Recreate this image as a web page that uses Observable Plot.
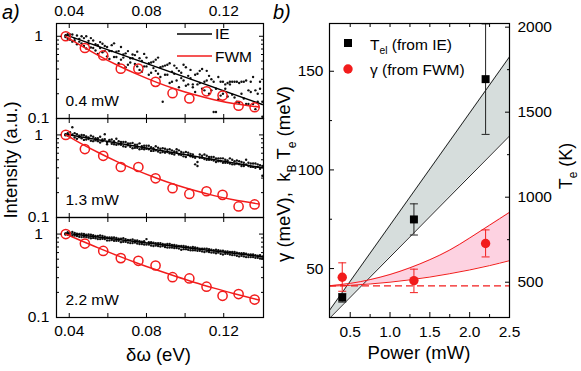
<!DOCTYPE html>
<html><head><meta charset="utf-8">
<script src="https://cdn.jsdelivr.net/npm/d3@7"></script>
<script src="https://cdn.jsdelivr.net/npm/@observablehq/plot@0.6"></script>
<style>
body{margin:0;background:#fff;}
#fig{position:relative;width:581px;height:371px;overflow:hidden;background:#fff;font-family:"Liberation Sans",Arial,Helvetica,sans-serif;color:#000;}
#fig svg{overflow:visible;}
</style></head>
<body><div id="fig"></div>
<script>
// ---------- DATA: panel a (normalized intensity vs delta-omega, eV) ----------
const ieStartEv = 0.038, ieStepEv = 0.0012;   // spectral sampling of the IE dots
const ie04A = [1.02,1.06,0.91,1.05,0.88,1.02,0.86,1.0,0.76,1.0, 0.88,0.73,0.89,0.67,0.78,0.85,0.64,0.76,0.57,0.66, 0.78,0.56,0.65,0.47,0.74,0.55,0.62,0.45,0.54,0.60, 0.46,0.65,0.39,0.50,0.43,0.55,0.34,0.48,0.41,0.52, 0.35,0.42,0.16,0.44,0.34,0.47,0.28,0.35,0.41,0.24, 0.36,0.29,0.42,0.26,0.31,0.24,0.34,0.26,0.38,0.23, 0.28,0.38,0.20,0.30,0.12,0.12,0.17,0.28,0.20,0.26, 0.27,0.28,0.195,0.28,0.16,0.27,0.20,0.28,0.15,0.22, 0.28,0.15,0.22,0.16,0.28,0.105];
const ie04B = [0.98,0.93,1.05,0.86,0.93,0.80,0.93,0.82,0.95,0.71, 0.81,0.95,0.72,0.80,0.61,0.72,0.81,0.66,0.74,0.53, 0.66,0.82,0.56,0.66,0.52,0.60,0.42,0.66,0.48,0.54, 0.59,0.43,0.54,0.37,0.61,0.43,0.47,0.36,0.49,0.38, 0.55,0.32,0.43,0.34,0.45,0.27,0.37,0.44,0.29,0.38, 0.31,0.45,0.25,0.33,0.39,0.26,0.21,0.35,0.27,0.40, 0.22,0.29,0.33,0.22,0.28,0.23,0.32,0.19,0.28,0.23, 0.185,0.26,0.28,0.18,0.28,0.155,0.28,0.175,0.29,0.15, 0.21,0.32,0.13,0.20,0.23,0.16];
const ie13A = [1.02,0.98,1.08,1.24,0.93,1.02,0.94,1.0,0.87,0.96, 0.89,0.98,0.84,0.91,0.84,0.95,0.84,0.89,0.77,0.85, 0.88,0.77,0.90,0.77,0.82,0.73,0.82,0.75,0.79,0.69, 0.76,0.70,0.79,0.68,0.74,0.68,0.74,0.64,0.69,0.73, 0.63,0.68,0.62,0.68,0.62,0.67,0.59,0.63,0.67,0.58, 0.62,0.55,0.62,0.57,0.59,0.54,0.44,0.42,0.58,0.53, 0.58,0.50,0.54,0.50,0.54,0.47,0.52,0.48,0.52,0.46, 0.49,0.52,0.44,0.48,0.45,0.48,0.42,0.46,0.50,0.42, 0.45,0.41,0.45,0.41,0.43,0.32];
const ie13B = [0.99,1.05,0.94,1.01,1.05,0.90,0.98,0.91,0.99,0.88, 0.93,0.85,0.95,0.86,0.91,0.81,0.88,1.02,0.81,0.87, 0.78,0.84,0.76,0.84,0.76,0.82,0.72,0.79,0.72,0.80, 0.70,0.76,0.67,0.73,0.67,0.74,0.67,0.71,0.64,0.65, 0.70,0.61,0.69,0.61,0.66,0.60,0.65,0.58,0.62,0.65, 0.57,0.61,0.54,0.61,0.55,0.58,0.53,0.47,0.53,0.56, 0.51,0.56,0.50,0.54,0.49,0.52,0.48,0.52,0.46,0.50, 0.46,0.45,0.50,0.44,0.49,0.44,0.47,0.42,0.44,0.46, 0.41,0.45,0.40,0.44,0.39,0.42];
const ie22A = [1.02,1.05,0.96,1.06,0.96,1.01,0.93,1.01,0.93,0.98, 0.91,0.98,0.90,0.95,0.87,0.96,0.88,0.93,0.84,0.91, 0.85,0.91,0.83,0.88,0.80,0.89,0.81,0.85,0.78,0.86, 0.79,0.84,0.76,0.81,0.75,0.87,0.75,0.80,0.72,0.78, 0.72,0.78,0.72,0.75,0.69,0.76,0.69,0.74,0.68,0.72, 0.65,0.72,0.66,0.70,0.64,0.70,0.64,0.68,0.63,0.67, 0.61,0.67,0.61,0.65,0.60,0.65,0.60,0.63,0.57,0.62, 0.58,0.61,0.56,0.61,0.55,0.59,0.55,0.59,0.53,0.57, 0.53,0.57,0.52,0.55,0.51,0.54];
const ie22B = [0.99,0.98,1.03,0.95,1.03,0.95,1.0,0.92,1.0,0.92, 0.99,0.89,0.97,0.89,0.95,0.87,0.95,0.87,0.91,0.84, 0.91,0.83,0.90,0.83,0.88,0.81,0.87,0.79,0.85,0.78, 0.84,0.77,0.82,0.76,0.82,0.75,0.80,0.73,0.79,0.73, 0.78,0.71,0.76,0.70,0.76,0.69,0.74,0.68,0.73,0.67, 0.72,0.66,0.71,0.65,0.69,0.64,0.69,0.63,0.67,0.62, 0.67,0.62,0.66,0.60,0.64,0.59,0.64,0.58,0.63,0.58, 0.62,0.57,0.61,0.56,0.60,0.54,0.59,0.54,0.58,0.53, 0.57,0.53,0.56,0.52,0.56,0.51];

const ieFitX = [0.0382, 0.1400];
const ieFit04 = [1.04, 0.148];
const ieFit13 = [1.02, 0.40];
const ieFit22 = [1.02, 0.535];

const fwmX = [0.0382,0.0481,0.0576,0.0667,0.0758,0.0847,0.0935,0.1022,0.1111,0.1194,0.1277,0.1360];
const fwm04 = [1.0,0.72,0.585,0.404,0.404,0.279,0.203,0.175,0.214,0.19,0.143,0.137];
const fwm13 = [1.0,0.674,0.558,0.409,0.409,0.298,0.226,0.193,0.208,0.188,0.136,0.144];
const fwm22 = [1.0,0.77,0.628,0.515,0.478,0.42,0.304,0.294,0.234,0.182,0.191,0.164];

const fitX = [0.0382,0.045,0.055,0.065,0.075,0.085,0.095,0.105,0.115,0.125,0.1382];
const fit04 = [1.0,0.798,0.587,0.444,0.346,0.277,0.228,0.194,0.169,0.152,0.138];
const fit13 = [1.0,0.813,0.612,0.472,0.372,0.301,0.249,0.212,0.184,0.164,0.146];
const fit22 = [1.0,0.854,0.683,0.552,0.451,0.373,0.312,0.263,0.225,0.194,0.162];

const powerLabelsA = ["0.4 mW", "1.3 mW", "2.2 mW"];
const xTicksA = [0.04,0.06,0.08,0.10,0.12];
const xLabelsA = [0.04,0.08,0.12];
const yMinorA = [0.2,0.3,0.4,0.5,0.6,0.7,0.8,0.9];
const yLabelsA = [0.1, 1];

// ---------- DATA: panel b (vs power, mW) ----------
const powerTel = [0.4, 1.3, 2.2];
const telMeV = [35.3, 74.9, 146.0];
const telLoMeV = [33.0, 67.0, 118.0];
const telHiMeV = [37.3, 82.8, 174.0];
const powerGamma = [0.4, 1.3, 2.2];
const gammaMeV = [45.6, 43.9, 62.7];
const gammaLoMeV = [38.5, 37.8, 55.9];
const gammaHiMeV = [52.9, 49.7, 69.6];
const gamma0MeV = 41.2;
const telBandP = [0.24, 2.5];
const telBandLo = [24.8, 117.2];
const telBandHi = [28.8, 157.3];
const gBandP = [0.24,0.5,0.75,1.0,1.25,1.5,1.75,2.0,2.25,2.5];
const gBandLo = [41.1,41.5,42.2,43.1,44.3,45.7,47.4,49.3,51.5,54.0];
const gBandHi = [41.3,42.5,44.4,47.0,50.4,54.5,59.4,65.5,72.0,78.5];
const powerTicksMajor = [0.5,1.0,1.5,2.0,2.5];
const powerTicksMinor = [0.75,1.25,1.75,2.25];
const powerTicksTop = [0.5,0.75,1.0,1.25,1.5,1.75,2.0,2.25];
const meVTicksMajor = [50,100,150];
const meVTicksMinor = [75,125];
const teTicksK = [500,1000,1500,2000];
const teMinorK = [750,1250,1750];
const KB = 0.08617333; // meV per K

// ---------- rendering ----------
const FONT = '"Liberation Sans", Arial, Helvetica, sans-serif';
const RED = "#f21c1c";
const fig = document.getElementById("fig");
function place(node, left, top) {
  node.style.position = "absolute"; node.style.left = left + "px"; node.style.top = top + "px";
  fig.appendChild(node);
}
const baseStyle = {fontFamily: FONT, fontSize: "15.5px", background: "transparent", overflow: "visible", color: "black"};
const tickAx = (fn, anchor, ticks, size) => fn({anchor, ticks, tickSize: -size, fill: "none", label: null, strokeWidth: 1});

function ieRowsOf(a, b) {
  const rows = [];
  [a, b].forEach(arr => arr.forEach((v, i) => rows.push({x: ieStartEv + i * ieStepEv, y: v})));
  return rows;
}
const zip = (xs, ys) => xs.map((x, i) => ({x, y: ys[i]}));

const subs = [
  {ieA: ie04A, ieB: ie04B, ieFit: ieFit04, fwm: fwm04, fit: fit04, label: powerLabelsA[0], top: 0, mTop: 23, frameH: 95, mBottom: 0, yMax: 1.43, topLabels: true},
  {ieA: ie13A, ieB: ie13B, ieFit: ieFit13, fwm: fwm13, fit: fit13, label: powerLabelsA[1], top: 118, mTop: 0, frameH: 99, mBottom: 0, yMax: 1.58},
  {ieA: ie22A, ieB: ie22B, ieFit: ieFit22, fwm: fwm22, fit: fit22, label: powerLabelsA[2], top: 217, mTop: 0, frameH: 100, mBottom: 54, yMax: 1.58, bottomLabels: true}
];

for (const s of subs) {
  const marks = [
    Plot.dot(ieRowsOf(s.ieA, s.ieB), {x: "x", y: "y", r: 1.2, fill: "#111", stroke: "none"}),
    Plot.line(zip(ieFitX, s.ieFit), {x: "x", y: "y", stroke: "black", strokeWidth: 1.5}),
    Plot.line(zip(fitX, s.fit), {x: "x", y: "y", stroke: RED, strokeWidth: 1.5, curve: "natural"}),
    Plot.dot(zip(fwmX, s.fwm), {x: "x", y: "y", r: 4.6, stroke: RED, strokeWidth: 1.5, fill: "none"}),
    Plot.text([s.label], {text: d => d, frameAnchor: "bottom-left", dx: 9, dy: -12.5, textAnchor: "start", lineAnchor: "bottom", fontSize: 15.5, fill: "black"}),
    Plot.frame({stroke: "black", strokeWidth: 1.2}),
    tickAx(Plot.axisX, "bottom", xTicksA, 4),
    tickAx(Plot.axisX, "top", xTicksA, 4),
    tickAx(Plot.axisY, "left", [1], 5),
    tickAx(Plot.axisY, "right", [1], 5),
    tickAx(Plot.axisY, "left", yMinorA, 3),
    tickAx(Plot.axisY, "right", yMinorA, 3),
    Plot.axisY({anchor: "left", ticks: yLabelsA, tickSize: 0, tickPadding: 18, textAnchor: "middle", tickFormat: d => d >= 1 ? "1" : "0.1", label: null})
  ];
  if (s.topLabels) marks.push(Plot.axisX({anchor: "top", ticks: xLabelsA, tickSize: 0, tickPadding: 8, tickFormat: d3.format(".2f"), label: null}));
  if (s.bottomLabels) marks.push(Plot.axisX({anchor: "bottom", ticks: xLabelsA, tickSize: 0, tickPadding: 7, tickFormat: d3.format(".2f"), label: null}));
  const chart = Plot.plot({
    width: 270, height: s.mTop + s.frameH + s.mBottom,
    marginLeft: 56, marginRight: 7, marginTop: s.mTop, marginBottom: s.mBottom,
    x: {type: "linear", domain: [0.0334, 0.1406]},
    y: {type: "log", domain: [0.1, s.yMax]},
    style: baseStyle,
    marks
  });
  place(chart, 0, s.top);
}

// panel b
const telRows = powerTel.map((p, i) => ({p, v: telMeV[i], lo: telLoMeV[i], hi: telHiMeV[i]}));
const gamRows = powerGamma.map((p, i) => ({p, v: gammaMeV[i], lo: gammaLoMeV[i], hi: gammaHiMeV[i]}));
const greyRows = telBandP.map((p, i) => ({p, lo: telBandLo[i], hi: telBandHi[i]}));
const pinkRows = gBandP.map((p, i) => ({p, lo: gBandLo[i], hi: gBandHi[i]}));
const cap = {draw(ctx, size) { const w = Math.sqrt(size / Math.PI); ctx.moveTo(-w, 0); ctx.lineTo(w, 0); }};
const DARK = "#222";

const chartB = Plot.plot({
  width: 321, height: 371, marginLeft: 69, marginRight: 72, marginTop: 23, marginBottom: 54,
  x: {domain: [0.24, 2.5]},
  y: {domain: [25.2, 174.2]},
  style: baseStyle,
  marks: [
    Plot.areaY(greyRows, {x: "p", y1: "lo", y2: "hi", fill: "#d6dddc", clip: true}),
    Plot.areaY(pinkRows, {x: "p", y1: "lo", y2: "hi", fill: "#fdd2e1", curve: "natural", clip: true}),
    Plot.line(greyRows, {x: "p", y: "hi", stroke: DARK, strokeWidth: 1, clip: true}),
    Plot.line(greyRows, {x: "p", y: "lo", stroke: DARK, strokeWidth: 1, clip: true}),
    Plot.line(pinkRows, {x: "p", y: "hi", stroke: RED, strokeWidth: 1, curve: "natural", clip: true}),
    Plot.line(pinkRows, {x: "p", y: "lo", stroke: RED, strokeWidth: 1, curve: "natural", clip: true}),
    Plot.ruleY([gamma0MeV], {stroke: RED, strokeWidth: 1.3, strokeDasharray: "7,4"}),
    Plot.ruleX(telRows, {x: "p", y1: "lo", y2: "hi", stroke: DARK, strokeWidth: 1}),
    Plot.dot(telRows, {x: "p", y: "lo", symbol: cap, r: 4, stroke: DARK, fill: "none", strokeWidth: 1}),
    Plot.dot(telRows, {x: "p", y: "hi", symbol: cap, r: 4, stroke: DARK, fill: "none", strokeWidth: 1}),
    Plot.ruleX(gamRows, {x: "p", y1: "lo", y2: "hi", stroke: RED, strokeWidth: 1}),
    Plot.dot(gamRows, {x: "p", y: "lo", symbol: cap, r: 4, stroke: RED, fill: "none", strokeWidth: 1}),
    Plot.dot(gamRows, {x: "p", y: "hi", symbol: cap, r: 4, stroke: RED, fill: "none", strokeWidth: 1}),
    Plot.dot(telRows, {x: "p", y: "v", symbol: "square", r: 4.5, fill: "black", stroke: "none"}),
    Plot.dot(gamRows, {x: "p", y: "v", r: 4.7, fill: RED, stroke: "none"}),
    Plot.frame({stroke: "black", strokeWidth: 1.2}),
    tickAx(Plot.axisX, "bottom", powerTicksMajor, 5),
    tickAx(Plot.axisX, "bottom", powerTicksMinor, 3),
    tickAx(Plot.axisX, "top", powerTicksTop, 3),
    Plot.axisX({anchor: "bottom", ticks: powerTicksMajor, tickSize: 0, tickPadding: 8, tickFormat: d3.format(".1f"), label: null}),
    tickAx(Plot.axisY, "left", meVTicksMajor, 5),
    tickAx(Plot.axisY, "left", meVTicksMinor, 3),
    Plot.axisY({anchor: "left", ticks: meVTicksMajor, tickSize: 0, tickPadding: 6, label: null}),
    tickAx(Plot.axisY, "right", teTicksK.map(t => t * KB), 5),
    tickAx(Plot.axisY, "right", teMinorK.map(t => t * KB), 3),
    Plot.axisY({anchor: "right", ticks: teTicksK.map(t => t * KB), tickSize: 0, tickPadding: 8, tickFormat: d => String(Math.round(d / KB)), label: null})
  ]
});
place(chartB, 260, 0);

// ---------- overlay: titles, panel letters, legends ----------
const ov = d3.create("svg").attr("width", 581).attr("height", 371)
  .style("position", "absolute").style("left", "0px").style("top", "0px")
  .style("pointer-events", "none").style("font-family", FONT).style("white-space", "pre");
function addText(parts, {x, y, size, anchor = "start", rotate = 0, italic = false}) {
  const t = ov.append("text").attr("transform", `translate(${x},${y}) rotate(${rotate})`)
    .attr("text-anchor", anchor).attr("font-size", size).attr("fill", "black").attr("xml:space", "preserve");
  if (italic) t.attr("font-style", "italic");
  let shift = 0;
  for (const p of parts) {
    if (typeof p === "string") {
      const ts = t.append("tspan").text(p);
      if (shift) { ts.attr("dy", -shift); shift = 0; }
    } else {
      const d = size * 0.3;
      t.append("tspan").text(p.sub).attr("font-size", size * 0.66).attr("dy", d);
      shift = d;
    }
  }
}
addText(["a)"], {x: 2, y: 19, size: 20, italic: true});
addText(["b)"], {x: 273, y: 19, size: 20, italic: true});
addText(["Intensity (a.u.)"], {x: 17, y: 160, size: 18.5, anchor: "middle", rotate: -90});
addText(["δω (eV)"], {x: 158.5, y: 361, size: 18.5, anchor: "middle"});
addText(["Power (mW)"], {x: 419, y: 359, size: 18.5, anchor: "middle"});
addText(["γ (meV),  k", {sub: "B"}, " T", {sub: "e"}, " (meV)"], {x: 290, y: 174, size: 18.5, anchor: "middle", rotate: -90});
addText(["T", {sub: "e"}, " (K)"], {x: 572, y: 166, size: 18, anchor: "middle", rotate: -90});
// legend a
ov.append("line").attr("x1", 177).attr("x2", 212).attr("y1", 34).attr("y2", 34).attr("stroke", "black").attr("stroke-width", 1.5);
ov.append("line").attr("x1", 177).attr("x2", 212).attr("y1", 56).attr("y2", 56).attr("stroke", RED).attr("stroke-width", 1.5);
addText(["IE"], {x: 215, y: 39.3, size: 15.5});
addText(["FWM"], {x: 215, y: 61.5, size: 15.5});
// legend b
ov.append("rect").attr("x", 344).attr("y", 39).attr("width", 8).attr("height", 8).attr("fill", "black");
ov.append("circle").attr("cx", 348).attr("cy", 69).attr("r", 4.7).attr("fill", RED);
addText(["T", {sub: "el"}, " (from IE)"], {x: 370, y: 49.5, size: 15.5});
addText(["γ (from FWM)"], {x: 370, y: 75, size: 15.5});
fig.appendChild(ov.node());
</script>
</body></html>
